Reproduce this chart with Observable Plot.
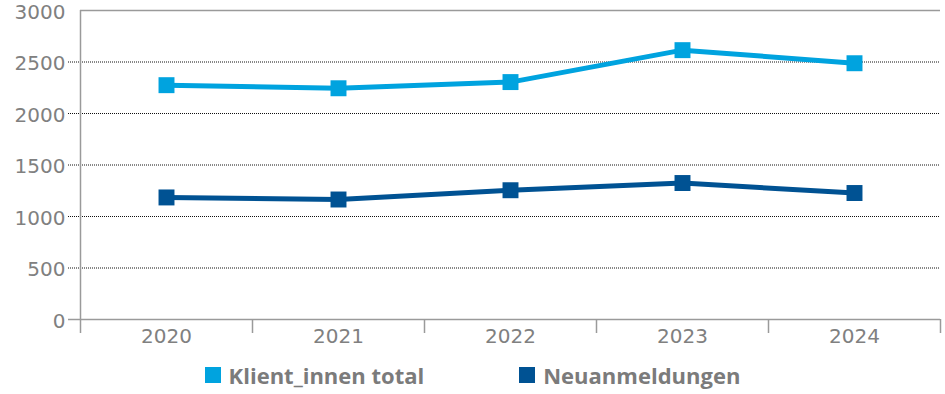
<!DOCTYPE html>
<html>
<head>
<meta charset="utf-8">
<script src="https://cdn.jsdelivr.net/npm/d3@7"></script>
<script src="https://cdn.jsdelivr.net/npm/@observablehq/plot@0.6"></script>
<style>
  html, body { margin: 0; padding: 0; background: #fff; }
  #chart { width: 945px; }
  .legend { display: flex; justify-content: center; align-items: center; height: 39px; gap: 95px;
    font-family: "Open Sans", Lato, sans-serif; font-weight: bold; font-size: 22px; color: #7b7b7b; }
  .legend .item { display: flex; align-items: center; }
  .legend .sw { width: 16px; height: 16px; margin-right: 8px; display: inline-block; }
</style>
</head>
<body>
<div id="chart"></div>
<script>
const years = [2020, 2021, 2022, 2023, 2024];
const klientTotal = [2275, 2245, 2305, 2615, 2488];
const neuanmeldungen = [1185, 1165, 1255, 1325, 1228];
const seriesNames = ["Klient_innen total", "Neuanmeldungen"];
const seriesColors = ["#00a3df", "#005293"];
const yTicks = [0, 500, 1000, 1500, 2000, 2500, 3000];

const data = [
  ...years.map((y, i) => ({year: y, value: klientTotal[i], series: seriesNames[0]})),
  ...years.map((y, i) => ({year: y, value: neuanmeldungen[i], series: seriesNames[1]}))
];

const boundaries = d3.range(years[0] - 0.5, years[years.length - 1] + 1, 1);
const axisGray = "#9a9a9a";
const textGray = "#808080";

const plot = Plot.plot({
  width: 945,
  height: 355,
  marginLeft: 80,
  marginRight: 5,
  marginTop: 10,
  marginBottom: 36,
  style: {fontFamily: "'DejaVu Sans', sans-serif", fontSize: "20px", color: textGray, background: "white", overflow: "visible"},
  x: {type: "linear", domain: [years[0] - 0.5, years[years.length - 1] + 0.5]},
  y: {domain: [0, 3000]},
  color: {domain: seriesNames, range: seriesColors},
  marks: [
    Plot.ruleY(yTicks.filter(d => d > 0 && d < 3000), {stroke: "#111", strokeDasharray: "1,1", strokeWidth: 1, insetLeft: -12}),
    Plot.ruleY([3000], {stroke: axisGray, strokeWidth: 1.5}),
    Plot.ruleY([0], {stroke: axisGray, strokeWidth: 1.5, insetLeft: -12}),
    Plot.ruleX([years[0] - 0.5], {stroke: axisGray, strokeWidth: 1.5}),
    Plot.axisX({ticks: boundaries, tickSize: 14, tickFormat: () => "", stroke: axisGray, strokeWidth: 1.5, label: null}),
    Plot.axisX({ticks: years, tickSize: 0, tickPadding: 9, tickFormat: d => String(d), fill: textGray, fontSize: 20, label: null}),
    Plot.axisY({ticks: yTicks, tickSize: 0, tickPadding: 15, dy: 2, tickFormat: d => String(d), fill: textGray, fontSize: 20, label: null}),
    Plot.line(data, {x: "year", y: "value", z: "series", stroke: "series", strokeWidth: 5, strokeLinejoin: "round"}),
    Plot.dot(data, {x: "year", y: "value", fill: "series", symbol: "square", r: 9})
  ]
});

document.getElementById("chart").appendChild(plot);

const legend = document.createElement("div");
legend.className = "legend";
seriesNames.forEach((name, i) => {
  const item = document.createElement("span");
  item.className = "item";
  const sw = document.createElement("span");
  sw.className = "sw";
  sw.style.background = seriesColors[i];
  item.appendChild(sw);
  item.appendChild(document.createTextNode(name));
  legend.appendChild(item);
});
document.getElementById("chart").appendChild(legend);
</script>
</body>
</html>
